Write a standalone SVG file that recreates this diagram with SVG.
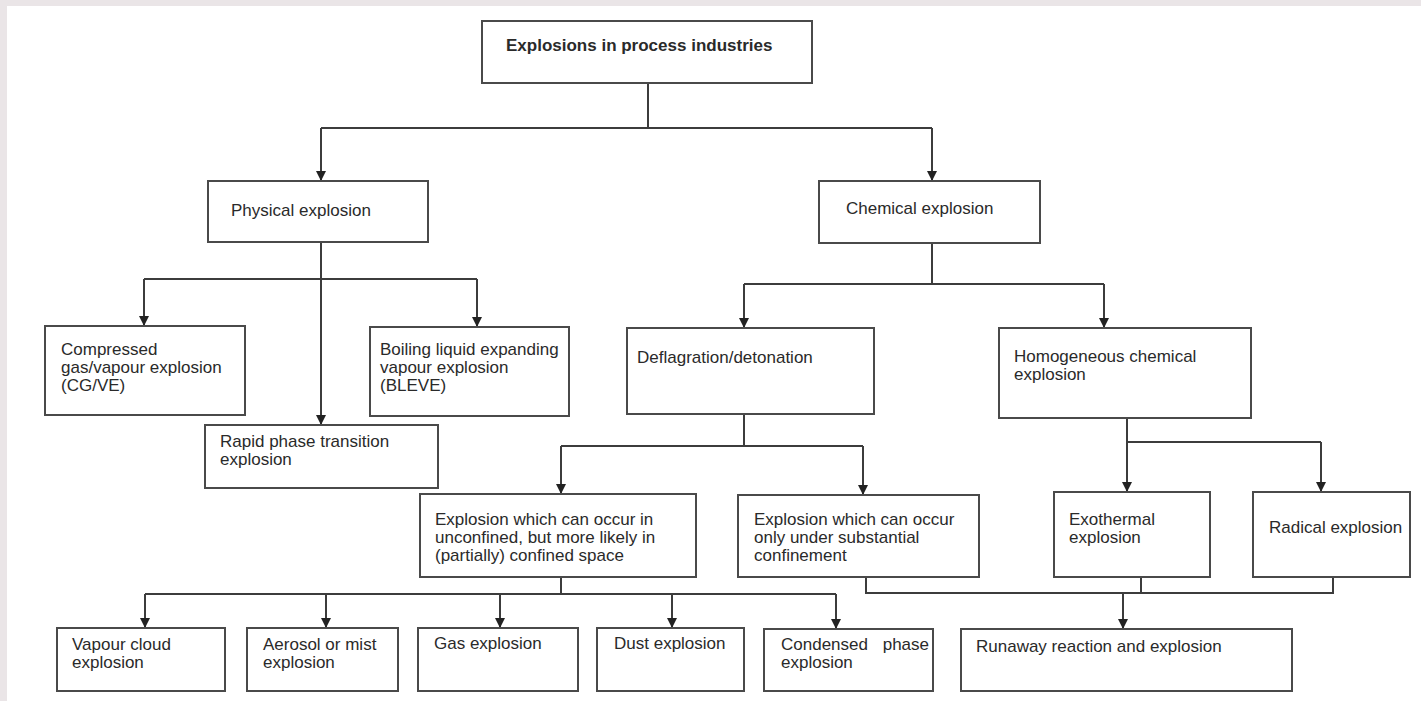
<svg xmlns="http://www.w3.org/2000/svg" width="1421" height="701" viewBox="0 0 1421 701">
<defs>
<style>
.box{fill:#fff;stroke:#4a4a4a;stroke-width:2}
.ln{fill:none;stroke:#3c3c3c;stroke-width:2}
.t{font-family:"Liberation Sans",Arial,sans-serif;font-size:17px;fill:#2a2a2a}
.b{font-weight:bold}
</style>
<marker id="ad" markerUnits="userSpaceOnUse" markerWidth="12" markerHeight="12" viewBox="0 0 12 12" refX="6" refY="11" orient="0">
<path d="M1,1 L11,1 L6,11 Z" fill="#222"/>
</marker>
</defs>
<rect x="0" y="0" width="1421" height="701" fill="#eae5e7"/>
<rect x="7" y="6" width="1414" height="695" fill="#fff"/>

<g id="connectors">
<path class="ln" d="M648,83 V128 M321,128 H932"/>
<path class="ln" d="M321,128 V181" marker-end="url(#ad)"/>
<path class="ln" d="M932,128 V181" marker-end="url(#ad)"/>
<path class="ln" d="M321,242 V425" marker-end="url(#ad)"/>
<path class="ln" d="M144,279 H477"/>
<path class="ln" d="M144,279 V326" marker-end="url(#ad)"/>
<path class="ln" d="M477,279 V327" marker-end="url(#ad)"/>
<path class="ln" d="M932,243 V284 M744,284 H1104"/>
<path class="ln" d="M744,284 V328" marker-end="url(#ad)"/>
<path class="ln" d="M1104,284 V328" marker-end="url(#ad)"/>
<path class="ln" d="M744,414 V446 M561,446 H863"/>
<path class="ln" d="M561,446 V494" marker-end="url(#ad)"/>
<path class="ln" d="M863,446 V495" marker-end="url(#ad)"/>
<path class="ln" d="M1127,418 V492" marker-end="url(#ad)"/>
<path class="ln" d="M1127,442 H1321"/>
<path class="ln" d="M1321,442 V492" marker-end="url(#ad)"/>
<path class="ln" d="M561,577 V594 M145,594 H836"/>
<path class="ln" d="M145,594 V628" marker-end="url(#ad)"/>
<path class="ln" d="M326,594 V628" marker-end="url(#ad)"/>
<path class="ln" d="M500,594 V628" marker-end="url(#ad)"/>
<path class="ln" d="M672,594 V628" marker-end="url(#ad)"/>
<path class="ln" d="M836,594 V629" marker-end="url(#ad)"/>
<path class="ln" d="M866,577 V593 H1333 V577 M1141,577 V593"/>
<path class="ln" d="M1123,593 V629" marker-end="url(#ad)"/>
</g>

<g id="n-root"><rect class="box" x="482" y="21" width="330" height="62"/><text class="t b" x="506" y="51">Explosions in process industries</text></g>
<g id="n-physical"><rect class="box" x="208" y="181" width="220" height="61"/><text class="t" x="231" y="216">Physical explosion</text></g>
<g id="n-chemical"><rect class="box" x="819" y="181" width="221" height="62"/><text class="t" x="846" y="214">Chemical explosion</text></g>
<g id="n-cgve"><rect class="box" x="45" y="326" width="200" height="89"/><text class="t" x="61" y="355">Compressed</text><text class="t" x="61" y="373">gas/vapour explosion</text><text class="t" x="61" y="391">(CG/VE)</text></g>
<g id="n-bleve"><rect class="box" x="370" y="327" width="199" height="89"/><text class="t" x="380" y="355">Boiling liquid expanding</text><text class="t" x="380" y="373">vapour explosion</text><text class="t" x="380" y="391">(BLEVE)</text></g>
<g id="n-rapid"><rect class="box" x="205" y="425" width="233" height="63"/><text class="t" x="220" y="447">Rapid phase transition</text><text class="t" x="220" y="465">explosion</text></g>
<g id="n-deflag"><rect class="box" x="627" y="328" width="247" height="86"/><text class="t" x="637" y="363">Deflagration/detonation</text></g>
<g id="n-homog"><rect class="box" x="999" y="328" width="252" height="90"/><text class="t" x="1014" y="362">Homogeneous chemical</text><text class="t" x="1014" y="380">explosion</text></g>
<g id="n-unconf"><rect class="box" x="420" y="494" width="276" height="83"/><text class="t" x="435" y="525">Explosion which can occur in</text><text class="t" x="435" y="543">unconfined, but more likely in</text><text class="t" x="435" y="561">(partially) confined space</text></g>
<g id="n-subst"><rect class="box" x="738" y="495" width="241" height="82"/><text class="t" x="754" y="525">Explosion which can occur</text><text class="t" x="754" y="543">only under substantial</text><text class="t" x="754" y="561">confinement</text></g>
<g id="n-exo"><rect class="box" x="1054" y="492" width="156" height="85"/><text class="t" x="1069" y="525">Exothermal</text><text class="t" x="1069" y="543">explosion</text></g>
<g id="n-radical"><rect class="box" x="1253" y="492" width="157" height="85"/><text class="t" x="1269" y="533">Radical explosion</text></g>
<g id="n-vapour"><rect class="box" x="57" y="628" width="168" height="63"/><text class="t" x="72" y="650">Vapour cloud</text><text class="t" x="72" y="668">explosion</text></g>
<g id="n-aerosol"><rect class="box" x="247" y="628" width="151" height="63"/><text class="t" x="263" y="650">Aerosol or mist</text><text class="t" x="263" y="668">explosion</text></g>
<g id="n-gas"><rect class="box" x="418" y="628" width="160" height="63"/><text class="t" x="434" y="649">Gas explosion</text></g>
<g id="n-dust"><rect class="box" x="597" y="628" width="147" height="63"/><text class="t" x="614" y="649">Dust explosion</text></g>
<g id="n-condensed"><rect class="box" x="764" y="629" width="169" height="62"/><text class="t" x="781" y="650">Condensed</text><text class="t" x="929" y="650" text-anchor="end">phase</text><text class="t" x="781" y="668">explosion</text></g>
<g id="n-runaway"><rect class="box" x="961" y="629" width="331" height="62"/><text class="t" x="976" y="652">Runaway reaction and explosion</text></g>
</svg>
